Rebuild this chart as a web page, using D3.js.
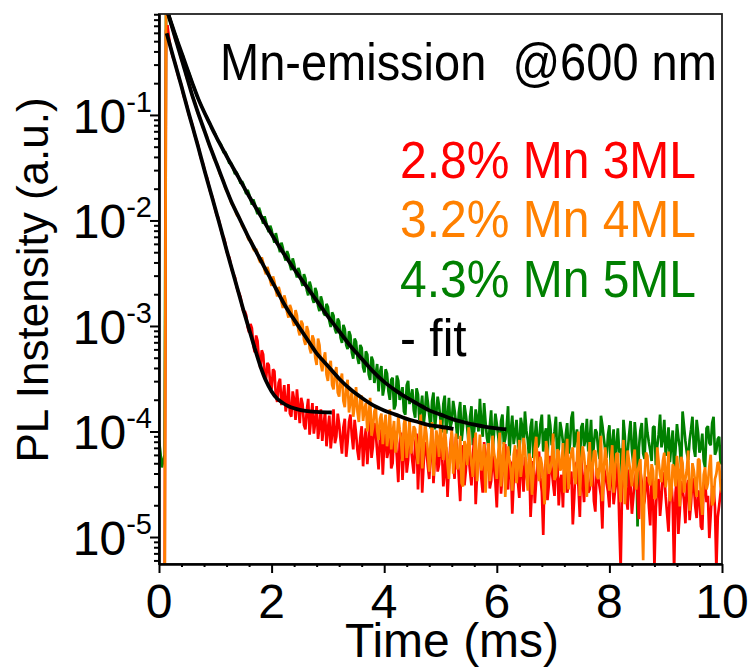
<!DOCTYPE html>
<html><head><meta charset="utf-8">
<script src="https://cdn.jsdelivr.net/npm/d3@7"></script>
<style>
body{margin:0;background:#fff}
svg{display:block}
text{font-family:"Liberation Sans",Arial,Helvetica,sans-serif}
</style>
</head><body>
<svg id="chart" width="753" height="667"></svg>
<script>
// ---- data: log10(PL intensity) x 100 ----
// main samples at t = i*0.05 ms (i = 0..200), mid samples at t = (i+0.5)*0.05 ms (i = 0..199)
const timeStep = 0.05;
const redLog = [
-565,-580,-570,-15,-34,-46,-53,-65,-72,-84,
-92,-103,-111,-122,-130,-142,-150,-159,-171,-178,
-190,-197,-209,-216,-229,-235,-248,-254,-267,-273,
-287,-290,-306,-302,-325,-314,-340,-327,-352,-337,
-360,-343,-372,-350,-368,-381,-355,-386,-370,-360,
-392,-374,-398,-369,-388,-402,-376,-395,-409,-381,
-398,-416,-379,-405,-393,-421,-388,-410,-384,-417,
-402,-427,-395,-409,-431,-389,-414,-401,-436,-398,
-412,-425,-393,-430,-407,-448,-401,-420,-439,-397,
-428,-411,-455,-404,-431,-417,-445,-398,-426,-438,
-409,-452,-415,-432,-401,-445,-421,-466,-413,-437,
-424,-451,-406,-440,-418,-458,-427,-411,-447,-433,
-472,-420,-441,-412,-455,-430,-446,-417,-463,-436,
-424,-450,-481,-428,-446,-419,-457,-437,-465,-423,
-449,-432,-470,-441,-426,-458,-445,-488,-431,-452,
-425,-467,-440,-455,-429,-476,-443,-461,-434,-449,
-472,-438,-456,-430,-530,-447,-463,-436,-478,-445,
-460,-437,-471,-449,-470,-441,-528,-452,-480,-439,
-462,-495,-448,-532,-443,-476,-455,-487,-446,-468,
-450,-482,-459,-493,-447,-461,-478,-452,-530,-470,
-445];
const redMidLog = [
-575,-568,-20,-26,-41,-49,-60,-68,-79,-87,
-99,-106,-117,-125,-137,-145,-156,-164,-175,-184,
-195,-202,-214,-221,-233,-242,-251,-262,-269,-281,
-286,-301,-298,-318,-309,-332,-323,-346,-335,-355,
-341,-366,-354,-375,-356,-373,-383,-362,-389,-377,
-368,-394,-380,-403,-373,-391,-407,-379,-394,-414,
-385,-402,-411,-383,-408,-396,-424,-391,-404,-389,
-418,-406,-433,-397,-412,-425,-392,-419,-405,-441,
-402,-418,-435,-399,-424,-411,-446,-405,-427,-414,
-440,-402,-423,-458,-410,-433,-419,-449,-407,-431,
-417,-440,-462,-413,-429,-405,-443,-425,-451,-416,
-438,-423,-469,-419,-444,-410,-437,-454,-421,-448,
-432,-459,-416,-442,-427,-478,-431,-448,-422,-457,
-439,-426,-453,-468,-429,-444,-498,-427,-450,-436,
-461,-425,-447,-472,-433,-451,-438,-463,-429,-481,
-446,-432,-458,-441,-466,-435,-452,-492,-440,-457,
-433,-469,-447,-485,-455,-438,-474,-451,-462,-439,
-483,-448,-466,-443,-489,-457,-473,-445,-463,-441,
-478,-454,-469,-458,-497,-447,-465,-452,-484,-444,
-471,-456,-490,-449,-467,-501,-454,-472,-481,-458];
const orangeLog = [
-600,-610,-590,-1,-11,-20,-30,-37,-48,-55,
-66,-73,-84,-90,-100,-106,-115,-120,-130,-135,
-144,-149,-158,-163,-172,-177,-185,-189,-196,-200,
-207,-211,-219,-221,-229,-231,-240,-240,-251,-249,
-262,-258,-272,-268,-283,-276,-292,-284,-300,-290,
-309,-298,-318,-305,-326,-313,-337,-318,-343,-325,
-352,-333,-360,-339,-367,-345,-377,-351,-371,-386,
-358,-391,-366,-379,-400,-368,-396,-377,-408,-383,
-395,-414,-379,-402,-420,-386,-409,-393,-425,-388,
-412,-398,-431,-384,-417,-402,-438,-391,-420,-407,
-389,-427,-412,-445,-398,-421,-436,-404,-452,-415,
-396,-430,-418,-447,-403,-426,-458,-411,-433,-420,
-445,-401,-429,-462,-414,-438,-422,-449,-408,-431,
-415,-456,-426,-440,-405,-447,-431,-469,-418,-436,
-402,-442,-419,-434,-458,-407,-428,-415,-450,-400,
-431,-423,-462,-410,-436,-418,-445,-404,-439,-427,
-456,-413,-435,-421,-467,-408,-442,-429,-452,-417,
-438,-426,-522,-420,-447,-431,-464,-415,-441,-428,
-453,-419,-460,-435,-423,-471,-430,-445,-418,-456,
-437,-462,-427,-479,-434,-449,-422,-466,-440,-431,
-458];
const orangeMidLog = [
-605,-600,-2,-6,-16,-25,-33,-43,-51,-61,
-69,-79,-86,-96,-102,-111,-117,-126,-132,-141,
-146,-155,-160,-169,-174,-182,-186,-194,-197,-205,
-208,-216,-218,-227,-227,-237,-235,-247,-244,-257,
-253,-266,-263,-277,-271,-287,-280,-295,-285,-304,
-295,-313,-300,-321,-309,-330,-312,-336,-331,-346,
-338,-356,-345,-363,-352,-371,-358,-382,-362,-375,
-381,-369,-390,-373,-385,-404,-381,-399,-388,-412,
-384,-403,-417,-390,-408,-398,-428,-386,-410,-421,
-395,-416,-405,-435,-392,-419,-410,-442,-399,-424,
-413,-395,-431,-418,-440,-402,-427,-449,-409,-432,
-419,-443,-401,-425,-437,-412,-430,-447,-404,-428,
-421,-452,-410,-435,-427,-456,-413,-432,-443,-406,
-438,-421,-460,-416,-433,-424,-451,-409,-440,-428,
-446,-417,-437,-411,-429,-455,-420,-443,-425,-461,
-414,-439,-428,-452,-419,-441,-433,-466,-415,-444,
-430,-458,-421,-446,-434,-469,-418,-440,-427,-455,
-432,-470,-444,-423,-451,-437,-462,-429,-448,-420,
-441,-466,-431,-452,-439,-424,-458,-436,-475,-430,
-449,-426,-463,-441,-455,-433,-470,-445,-429,-452];
const greenLog = [
-408,-434,-422,-2,-10,-18,-25,-34,-41,-49,
-56,-63,-71,-78,-85,-91,-97,-102,-108,-114,
-118,-125,-128,-136,-138,-146,-148,-156,-157,-165,
-166,-175,-175,-185,-184,-194,-192,-203,-201,-211,
-209,-221,-218,-230,-226,-238,-233,-247,-241,-254,
-249,-262,-255,-271,-263,-278,-268,-286,-277,-290,
-282,-301,-290,-307,-296,-316,-303,-322,-309,-331,
-315,-336,-321,-344,-327,-351,-333,-346,-362,-338,
-358,-345,-370,-349,-375,-352,-366,-381,-356,-374,
-360,-387,-365,-378,-394,-362,-385,-371,-398,-367,
-389,-374,-402,-368,-391,-380,-407,-372,-395,-384,
-411,-376,-398,-388,-369,-405,-391,-414,-380,-402,
-393,-418,-384,-407,-376,-399,-412,-389,-421,-395,
-381,-408,-396,-425,-390,-411,-384,-403,-430,-394,
-409,-386,-417,-399,-436,-392,-412,-381,-405,-422,
-396,-414,-388,-409,-433,-398,-417,-385,-406,-425,
-394,-411,-440,-397,-416,-389,-452,-403,-418,-391,
-490,-399,-421,-387,-410,-428,-395,-414,-384,-407,
-423,-396,-412,-438,-393,-415,-381,-409,-427,-398,
-416,-389,-420,-402,-434,-395,-413,-386,-418,-405,
-428];
const greenMidLog = [
-420,-428,-4,-6,-14,-22,-29,-38,-44,-53,
-59,-67,-74,-82,-88,-94,-100,-105,-111,-116,
-122,-126,-132,-135,-142,-145,-152,-154,-161,-163,
-171,-171,-180,-180,-190,-188,-198,-196,-207,-205,
-216,-212,-225,-221,-234,-229,-242,-236,-249,-245,
-257,-251,-266,-258,-274,-264,-281,-272,-288,-279,
-295,-287,-303,-293,-311,-299,-318,-305,-325,-312,
-330,-318,-339,-324,-346,-329,-354,-336,-344,-366,
-341,-362,-351,-379,-347,-370,-358,-384,-352,-368,
-380,-359,-389,-366,-381,-372,-397,-363,-383,-376,
-401,-366,-388,-396,-371,-392,-382,-409,-375,-397,
-386,-413,-379,-400,-392,-373,-406,-395,-419,-383,
-404,-390,-412,-396,-423,-385,-402,-410,-387,-416,
-399,-427,-388,-406,-415,-393,-419,-397,-384,-413,
-400,-428,-391,-410,-403,-421,-387,-415,-398,-432,
-392,-408,-419,-389,-411,-401,-426,-394,-417,-403,
-437,-398,-413,-420,-445,-405,-419,-390,-431,-407,
-415,-392,-426,-401,-418,-396,-432,-403,-415,-389,
-411,-429,-399,-417,-406,-434,-395,-420,-408,-386,
-424,-401,-415,-428,-397,-411,-392,-422,-407,-431];
// fits: [time (ms), log10(intensity)]
const fitRed = [[0.137,-0.226],[0.2,-0.35],[0.3,-0.54],[0.4,-0.73],[0.5,-0.93],[0.6,-1.12],[0.7,-1.31],[0.8,-1.51],[0.9,-1.70],[1.0,-1.89],[1.1,-2.08],[1.2,-2.28],[1.3,-2.47],[1.4,-2.66],[1.5,-2.85],[1.6,-3.03],[1.7,-3.21],[1.8,-3.38],[1.9,-3.52],[2.0,-3.62],[2.1,-3.69],[2.2,-3.73],[2.3,-3.76],[2.4,-3.78],[2.5,-3.795],[2.6,-3.805],[2.8,-3.815],[3.07,-3.82]];
const fitOrange = [[0.15,-0.02],[0.2,-0.11],[0.3,-0.29],[0.4,-0.47],[0.5,-0.65],[0.6,-0.83],[0.7,-0.99],[0.8,-1.14],[0.9,-1.29],[1.0,-1.43],[1.1,-1.57],[1.2,-1.71],[1.3,-1.84],[1.4,-1.95],[1.5,-2.06],[1.6,-2.17],[1.7,-2.27],[1.8,-2.37],[1.9,-2.47],[2.0,-2.57],[2.1,-2.67],[2.2,-2.77],[2.3,-2.86],[2.4,-2.94],[2.5,-3.02],[2.6,-3.10],[2.7,-3.18],[2.8,-3.26],[2.9,-3.32],[3.0,-3.38],[3.2,-3.50],[3.4,-3.60],[3.6,-3.68],[3.8,-3.75],[4.0,-3.80],[4.2,-3.84],[4.4,-3.88],[4.6,-3.91],[4.8,-3.94],[5.0,-3.955],[5.23,-3.975]];
const fitGreen = [[0.15,-0.02],[0.2,-0.10],[0.3,-0.26],[0.4,-0.41],[0.5,-0.56],[0.6,-0.71],[0.7,-0.85],[0.8,-0.97],[0.9,-1.08],[1.0,-1.19],[1.2,-1.39],[1.4,-1.58],[1.6,-1.77],[1.8,-1.95],[2.0,-2.13],[2.2,-2.30],[2.4,-2.46],[2.6,-2.61],[2.8,-2.76],[3.0,-2.91],[3.2,-3.05],[3.4,-3.19],[3.6,-3.31],[3.8,-3.43],[4.0,-3.53],[4.2,-3.61],[4.4,-3.68],[4.6,-3.74],[4.8,-3.80],[5.0,-3.84],[5.2,-3.88],[5.4,-3.91],[5.6,-3.935],[5.8,-3.955],[6.0,-3.97],[6.17,-3.98]];
const xTicks = [0, 2, 4, 6, 8, 10];
const yTickExps = [-5, -4, -3, -2, -1];
const legendLabels = ["2.8% Mn 3ML", "3.2% Mn 4ML", "4.3% Mn 5ML", "- fit"];
const seriesColors = ["#ff0000", "#ff8000", "#008000", "#000000"];
const titleText = "Mn-emission  @600 nm";
const xTitle = "Time (ms)";
const yTitle = "PL Instensity (a.u.)";

// ---- chart ----
const svg = d3.select("#chart");
const M = {l:159, r:722, t:14, b:564};
const x = d3.scaleLinear().domain([0, 10]).range([M.l, M.r]);
const y = d3.scaleLog().domain([5.55e-6, 0.905]).range([M.b, M.t]);

svg.append("defs").append("clipPath").attr("id","clip")
  .append("rect").attr("x",M.l).attr("y",M.t).attr("width",M.r-M.l).attr("height",M.b-M.t);

function toPts(main, mid){
  const pts = [];
  main.forEach((v,i)=>{
    pts.push({t:i*timeStep, v:Math.pow(10, v/100)});
    if (i < mid.length) pts.push({t:(i+0.5)*timeStep, v:Math.pow(10, mid[i]/100)});
  });
  return pts;
}
const line = d3.line().x(d=>x(d.t)).y(d=>y(d.v));
const fitLine = d3.line().x(d=>x(d[0])).y(d=>y(Math.pow(10,d[1]))).curve(d3.curveMonotoneX);

const g = svg.append("g").attr("clip-path","url(#clip)");
[[greenLog, greenMidLog, seriesColors[2]], [redLog, redMidLog, seriesColors[0]], [orangeLog, orangeMidLog, seriesColors[1]]].forEach(([a,b,c])=>{
  g.append("path").datum(toPts(a,b)).attr("d",line).attr("fill","none")
   .attr("stroke",c).attr("stroke-width",2.7).attr("stroke-linejoin","bevel");
});
[fitRed, fitOrange, fitGreen].forEach(f=>{
  g.append("path").datum(f).attr("d",fitLine).attr("fill","none")
   .attr("stroke","#000").attr("stroke-width",3.8).attr("stroke-linecap","butt");
});

// frame
svg.append("rect").attr("x",M.l).attr("y",M.t).attr("width",M.r-M.l).attr("height",M.b-M.t)
  .attr("fill","none").attr("stroke","#222").attr("stroke-width",1.8);

// x axis
const xAx = svg.append("g").attr("transform",`translate(0,${M.b})`)
  .call(d3.axisBottom(x).tickValues(xTicks).tickSize(9).tickSizeOuter(0).tickFormat(""));
const xMinor = d3.range(0, 10.001, 0.4).filter(v=>!xTicks.some(t=>Math.abs(t-v)<1e-6));
const xAxM = svg.append("g").attr("transform",`translate(0,${M.b})`)
  .call(d3.axisBottom(x).tickValues(xMinor).tickSize(3).tickSizeOuter(0).tickFormat(""));
// y axis
const yMajor = yTickExps.map(e=>Math.pow(10,e));
const yMinor = [];
for (let e=-6; e<=-1; e++) for (let k=2;k<=9;k++){ const v=k*Math.pow(10,e); if(v>=y.domain()[0] && v<=y.domain()[1]) yMinor.push(v); }
const yAx = svg.append("g").attr("transform",`translate(${M.l},0)`)
  .call(d3.axisLeft(y).tickValues(yMajor).tickSize(9).tickSizeOuter(0).tickFormat(""));
const yAxM = svg.append("g").attr("transform",`translate(${M.l},0)`)
  .call(d3.axisLeft(y).tickValues(yMinor).tickSize(5).tickSizeOuter(0).tickFormat(""));
[xAx,xAxM,yAx,yAxM].forEach(a=>{
  a.selectAll("line").attr("stroke","#000").attr("stroke-width",2);
  a.select(".domain").attr("stroke","#000").attr("stroke-width",2.2);
});

// tick labels
xTicks.forEach(v=>{
  svg.append("text").attr("x",x(v)).attr("y",618).attr("text-anchor","middle")
    .attr("font-size",48).text(v);
});
yTickExps.forEach(e=>{
  const t = svg.append("text").attr("x",152).attr("y",y(Math.pow(10,e))+18)
    .attr("text-anchor","end").attr("font-size",48);
  t.append("tspan").text("10");
  t.append("tspan").attr("dy",-21).attr("font-size",29).text(String(e));
});

// axis titles
svg.append("text").attr("x",452).attr("y",657).attr("text-anchor","middle")
  .attr("font-size",48).text(xTitle);
svg.append("text").attr("transform","translate(48,280) rotate(-90)").attr("text-anchor","middle")
  .attr("font-size",44).text(yTitle);

// annotation + legend
svg.append("text").attr("transform","translate(220,80) scale(1,1.1)").attr("font-size",47)
  .style("white-space","pre").text(titleText);
const legY = [178, 237, 297, 356];
legendLabels.forEach((s,i)=>{
  svg.append("text").attr("transform",`translate(400,${legY[i]}) scale(1,1.08)`).attr("font-size",48)
    .attr("fill",seriesColors[i]).text(s);
});
</script>
</body></html>
